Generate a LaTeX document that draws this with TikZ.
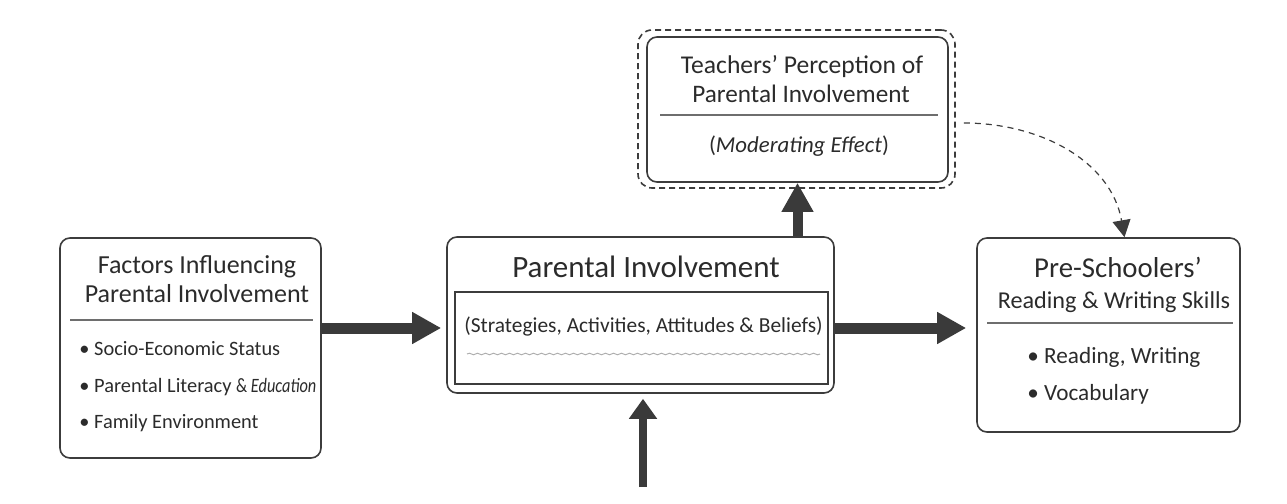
\documentclass[tikz,border=0pt]{standalone}
\usepackage{fontspec}
\setmainfont{Carlito}
\usetikzlibrary{arrows.meta,decorations.pathmorphing}

\definecolor{inkc}{HTML}{2B2B2B}
\definecolor{framec}{HTML}{3C3C3C}
\definecolor{rulec}{HTML}{6E6E6E}
\definecolor{arrowc}{HTML}{3A3A3A}

\tikzset{
  box/.style={draw=framec, line width=0.8pt, rounded corners=5pt, inner sep=0pt},
  txt/.style={anchor=base, inner sep=0pt, text=inkc},
  item/.style={anchor=base west, inner sep=0pt, text=inkc},
  sepline/.style={draw=rulec, line width=0.6pt},
  bigarrow/.style={draw=arrowc, line width=5.5pt, -{Triangle[width=15pt,length=14.5pt]}},
  dasharrow/.style={draw=framec, line width=0.6pt, dash pattern=on 3pt off 2.5pt,
    -{Triangle[width=9pt,length=8.5pt]}},
}
\newcommand{\sz}[1]{\fontsize{#1}{#1}\selectfont}

\begin{document}
\begin{tikzpicture}[x=0.5pt, y=-0.5pt]
    \useasboundingbox (0,0) rectangle (1287,504);

    % the four blocks
    \node[box, minimum width=130.5pt, minimum height=110pt] (factors) at (190.5,348) {};
    \node[box, minimum width=193.5pt, minimum height=78pt] (pinv) at (640.5,315) {};
    \node[draw=framec, line width=1.1pt, inner sep=0pt, minimum width=186.5pt, minimum height=46pt] (pinvin) at (641.5,338) {};
    \node[box, rounded corners=7pt, dash pattern=on 3pt off 2pt, minimum width=158.5pt, minimum height=79pt] (teach) at (796.5,109) {};
    \node[box, minimum width=150.5pt, minimum height=72.5pt] (teachin) at (797.5,109.5) {};
    \node[box, minimum width=131.5pt, minimum height=97pt] (pre) at (1108.5,335) {};

    % factors
    \node[txt, font=\sz{13pt}] (ftop) at (197,273) {Factors Influencing};
    \node[txt, font=\sz{13pt}] (fbot) at (197,302) {Parental Involvement};
    \draw[sepline] (70,320) -- (313,320);
    \node[item, font=\sz{10.2pt}] (f1) at (79,355) {\textbullet\ Socio-Economic Status};
    \node[item, font=\sz{10.2pt}] (f2) at (79,392) {\textbullet\ Parental Literacy \scalebox{0.8}[1]{\& \textit{Education}}};
    \node[item, font=\sz{10.2pt}] (f3) at (79,428) {\textbullet\ Family Environment};

    % parental involvement
    \node[txt, font=\sz{15.5pt}] (ptitle) at (646,277) {Parental Involvement};
    \node[txt, font=\sz{10.7pt}] (pdesc) at (643.5,332) {(Strategies, Activities, Attitudes \& Beliefs)};
    \draw[rulec!55, line width=0.5pt, decorate, decoration={snake, amplitude=0.4pt, segment length=4pt}] (467,354) -- (820,354);

    % teachers' perception
    \node[txt, font=\sz{12.8pt}] (ttop) at (802,73) {Teachers' Perception of};
    \node[txt, font=\sz{12.6pt}] (tbot) at (801,102) {Parental Involvement};
    \draw[sepline] (660,115) -- (938,115);
    \node[txt, font=\sz{11.4pt}] (tnote) at (799,152) {(\textit{Moderating Effect})};

    % pre-schoolers
    \node[txt, font=\sz{14.4pt}] (stop) at (1118,277) {Pre-Schoolers'};
    \node[txt, font=\sz{12.1pt}] (sbot) at (1114,308) {Reading \& Writing Skills};
    \draw[sepline] (987,323) -- (1233,323);
    \node[item, font=\sz{11.6pt}] (s1) at (1027,363) {\textbullet\ Reading, Writing};
    \node[item, font=\sz{11.6pt}] (s2) at (1027,400) {\textbullet\ Vocabulary};

    % connectors
    \coordinate (mid) at (0,328);
    \coordinate (below) at (643,487);
    \draw[bigarrow, shorten >=2.5pt] (factors.east |- mid) -- (pinv.west |- mid);
    \draw[bigarrow, shorten >=5pt] (pinv.east |- mid) -- (pre.west |- mid);
    \draw[bigarrow, line width=5pt] (pinv.north -| teachin.south) -- (teachin.south);
    \draw[bigarrow, line width=4pt, -{Triangle[width=13.5pt,length=10pt]}, shorten >=2.5pt] (below) -- (pinv.south -| below);
    \draw[dasharrow] ([shift={(4pt,-7pt)}]teach.east) to[out=0, in=100] ([xshift=8pt]pre.north);
\end{tikzpicture}
\end{document}
